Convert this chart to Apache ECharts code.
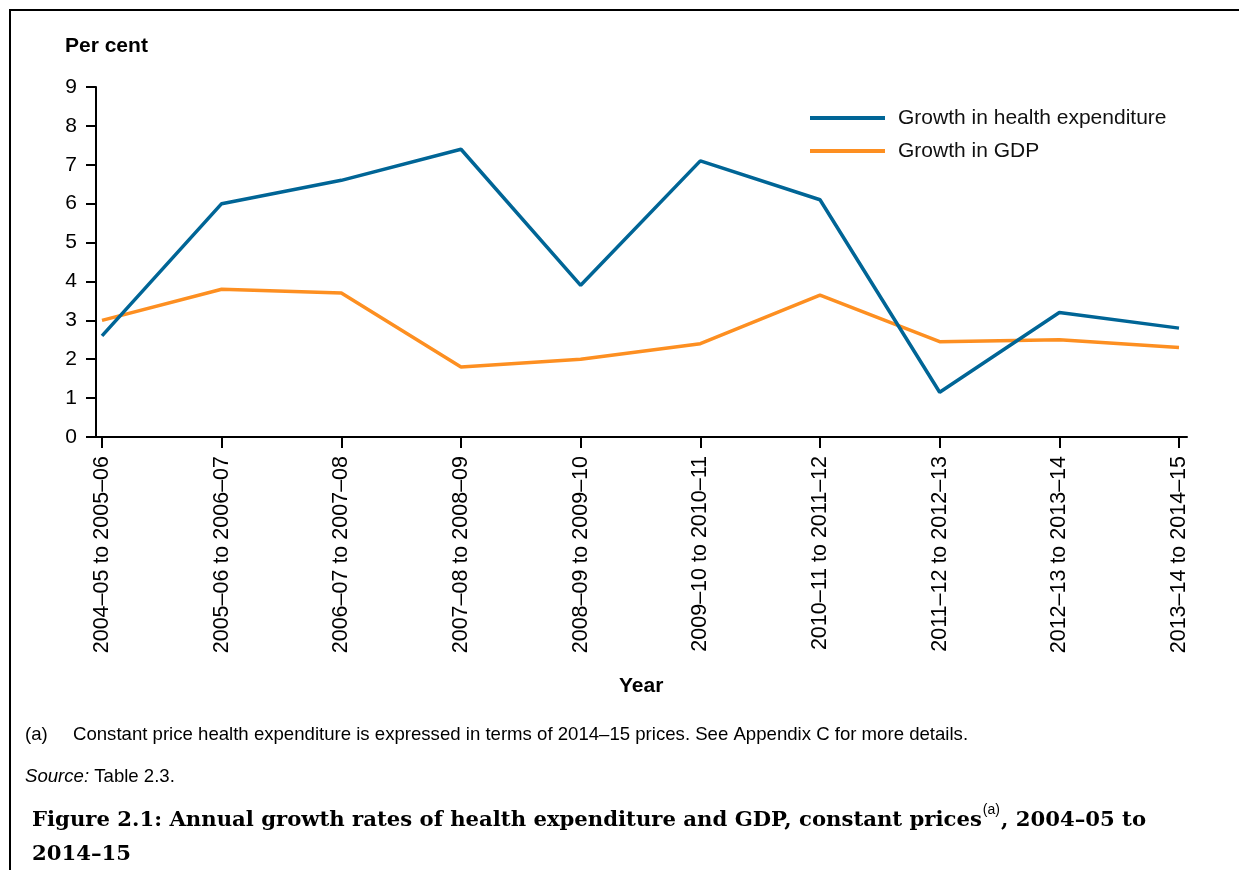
<!DOCTYPE html>
<html>
<head>
<meta charset="utf-8">
<script src="https://cdn.jsdelivr.net/npm/echarts@6/dist/echarts.min.js"></script>
<style>
html,body{margin:0;padding:0;background:#fff;}
#chart{width:1239px;height:870px;}
</style>
</head>
<body>
<div id="chart"></div>
<script>
const categories = ['2004–05 to 2005–06','2005–06 to 2006–07','2006–07 to 2007–08','2007–08 to 2008–09','2008–09 to 2009–10','2009–10 to 2010–11','2010–11 to 2011–12','2011–12 to 2012–13','2012–13 to 2013–14','2013–14 to 2014–15'];
const healthGrowth = [2.6, 6.0, 6.6, 7.4, 3.9, 7.1, 6.1, 1.15, 3.2, 2.8];
const gdpGrowth = [3.0, 3.8, 3.7, 1.8, 2.0, 2.4, 3.65, 2.45, 2.5, 2.3];
const seriesNames = ['Growth in health expenditure', 'Growth in GDP'];
const yMin = 0, yMax = 9, yInterval = 1;

const sans = '"Liberation Sans", Arial, sans-serif';
const serif = '"DejaVu Serif", serif';
const blue = '#006596';
const orange = '#FD8F21';

const chart = echarts.init(document.getElementById('chart'), null, {renderer: 'canvas'});
chart.setOption({
  backgroundColor: '#fff',
  animation: false,
  grid: [
    {left: 96, top: 87, width: 1091, height: 350, containLabel: false},
    {left: 102, top: 87, width: 1077, height: 350, containLabel: false}
  ],
  legend: {
    orient: 'vertical',
    left: 805, top: 102,
    icon: 'rect',
    itemWidth: 75, itemHeight: 4,
    itemGap: 11,
    textStyle: {fontFamily: sans, fontSize: 21, color: '#111', lineHeight: 22, padding: [0,0,0,8]},
    data: seriesNames
  },
  xAxis: [
    {gridIndex: 0, type: 'value', min: 0, max: 1,
     axisLine: {show: true, lineStyle: {color: '#000', width: 2}},
     axisTick: {show: false}, axisLabel: {show: false}, splitLine: {show: false}},
    {gridIndex: 1, type: 'category', data: categories, boundaryGap: false,
     axisLine: {show: false},
     axisTick: {show: true, length: 11, lineStyle: {color: '#000', width: 2}},
     axisLabel: {rotate: 90, margin: 19, fontFamily: sans, fontSize: 21.5, color: '#000', interval: 0},
     splitLine: {show: false}}
  ],
  yAxis: [
    {gridIndex: 0, type: 'value', min: yMin, max: yMax, interval: yInterval, show: false},
    {gridIndex: 1, type: 'value', min: yMin, max: yMax, interval: yInterval, offset: 6,
     axisLine: {show: true, lineStyle: {color: '#000', width: 2}},
     axisTick: {show: true, length: 10, lineStyle: {color: '#000', width: 2}},
     axisLabel: {margin: 19, fontFamily: sans, fontSize: 21, color: '#000'},
     splitLine: {show: false}}
  ],
  series: [
    {name: seriesNames[0], type: 'line', xAxisIndex: 1, yAxisIndex: 1, data: healthGrowth,
     symbol: 'none', lineStyle: {color: blue, width: 3.5}, itemStyle: {color: blue}, z: 3},
    {name: seriesNames[1], type: 'line', xAxisIndex: 1, yAxisIndex: 1, data: gdpGrowth,
     symbol: 'none', lineStyle: {color: orange, width: 3.5}, itemStyle: {color: orange}, z: 2}
  ],
  graphic: [
    {type: 'rect', shape: {x: 10, y: 10, width: 1300, height: 900},
     style: {fill: 'none', stroke: '#000', lineWidth: 2}, silent: true},
    {type: 'text', left: 65, top: 36,
     style: {text: 'Per cent', font: 'bold 21px ' + sans, fill: '#000'}},
    {type: 'text', left: 619, top: 676,
     style: {text: 'Year', font: 'bold 21px ' + sans, fill: '#000'}},
    {type: 'text', left: 25, top: 725,
     style: {text: '(a)', font: '18.6px ' + sans, fill: '#000'}},
    {type: 'text', left: 73, top: 725,
     style: {text: 'Constant price health expenditure is expressed in terms of 2014–15 prices. See Appendix C for more details.', font: '18.6px ' + sans, fill: '#000'}},
    {type: 'text', left: 25, top: 767,
     style: {text: '{i|Source:} Table 2.3.', font: '18.6px ' + sans, fill: '#000',
       rich: {i: {fontStyle: 'italic', fontFamily: sans, fontSize: 18.6}}}},
    {type: 'text', left: 32, top: 803,
     style: {text: 'Figure 2.1: Annual growth rates of health expenditure and GDP, constant prices{s|(a)}, 2004–05 to\n2014–15',
       fontFamily: serif, fontWeight: 'bold', fontSize: 21.2, lineHeight: 34, fill: '#000',
       rich: {s: {fontFamily: sans, fontWeight: 'normal', fontSize: 14, verticalAlign: 'top', padding: [0,1,1,1]}}}}
  ]
});
</script>
</body>
</html>
